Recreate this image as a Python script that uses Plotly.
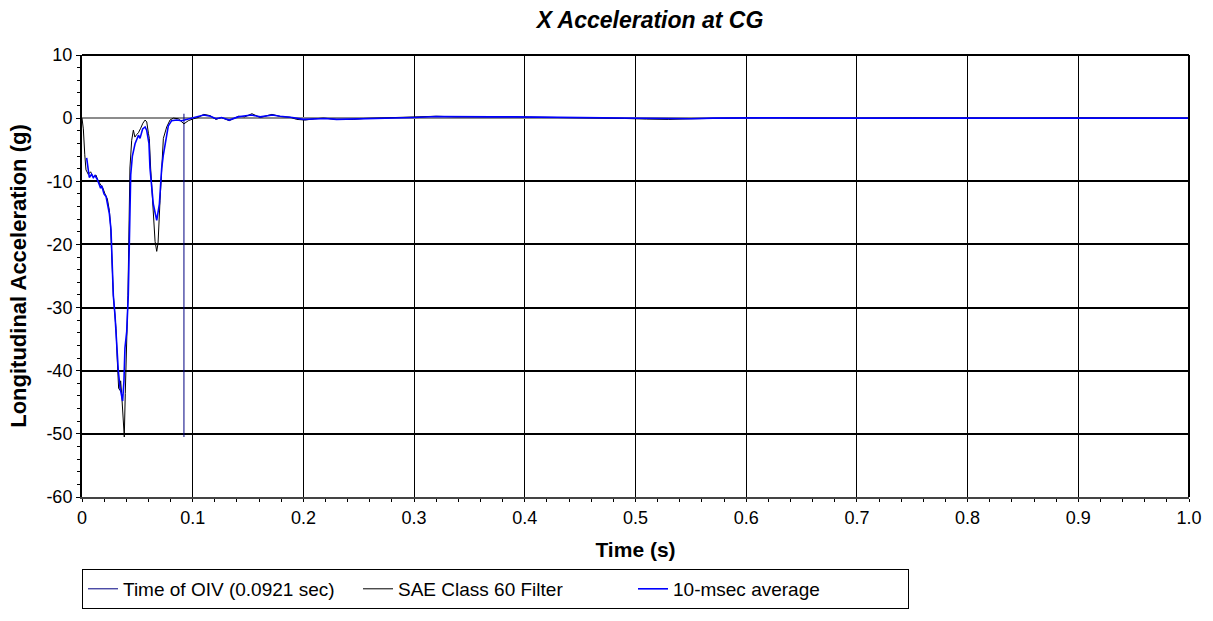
import plotly.graph_objects as go

# SAE Class 60 filtered longitudinal acceleration (g) vs time (s)
sae_t = [0.0, 0.0012, 0.0025, 0.0036, 0.0057, 0.0078, 0.0102, 0.0126, 0.0147, 0.0169,
         0.0187, 0.0208, 0.0229, 0.0247, 0.0259, 0.0283, 0.0307, 0.0319, 0.0331, 0.0343,
         0.0349, 0.0358, 0.0373, 0.0382, 0.0391, 0.0404, 0.0415, 0.0433, 0.0440, 0.0449,
         0.0464, 0.0478, 0.0494, 0.0510, 0.0530, 0.0550, 0.0570, 0.0585, 0.0600, 0.0608,
         0.0620, 0.0644, 0.0660, 0.0675, 0.0687, 0.0705, 0.0720, 0.0735, 0.0765, 0.0795,
         0.0825, 0.0870, 0.0921, 0.0961, 0.1006, 0.1050, 0.1100, 0.1156, 0.1210, 0.1260,
         0.1330, 0.1414, 0.1470, 0.1535, 0.1610, 0.1716, 0.1790, 0.1880, 0.1940, 0.2017,
         0.2100, 0.2180, 0.2300, 0.2450, 0.2550, 0.2660, 0.2780, 0.2900, 0.3020, 0.3200,
         0.3380, 0.3550, 0.3680, 0.3900, 0.4100, 0.4300, 0.4500, 0.4700, 0.4900, 0.5100,
         0.5300, 0.5500, 0.5700, 0.6000, 0.6300, 0.6600, 0.7000, 0.7500, 0.8000, 0.8500,
         0.9000, 0.9500, 1.0000]
sae_g = [0.0, -1.7, -5.8, -8.2, -8.9, -8.5, -9.4, -9.0, -10.0, -10.5,
         -11.0, -12.0, -12.8, -14.6, -17.2, -28.1, -33.3, -38.4, -42.8, -43.1,
         -41.6, -43.6, -48.3, -50.5, -43.6, -34.8, -28.1, -7.9, -5.5, -3.5,
         -1.9, -3.0, -2.6, -2.3, -1.6, -0.8, -0.3, -0.6, -2.4, -3.2,
         -7.9, -15.7, -19.5, -21.1, -19.8, -13.0, -7.9, -3.2, -1.4, -0.3,
         0.0, -0.1, -0.9, -0.4, -0.1, 0.1, 0.6, 0.4, -0.2, 0.1,
         -0.4, 0.3, 0.2, 0.7, 0.1, 0.6, 0.25, 0.15, -0.2, -0.3,
         -0.1, 0.0, -0.2, -0.2, -0.05, 0.0, 0.0, 0.1, 0.15, 0.3,
         0.2, 0.25, 0.2, 0.2, 0.15, 0.2, 0.1, 0.05, -0.05, -0.15,
         -0.2, -0.1, 0.0, 0.05, 0.05, 0.0, 0.0, 0.05, 0.0, 0.0,
         0.05, 0.0, 0.0]

# 10-msec moving average
avg_t = [0.0042, 0.0057, 0.0066, 0.0087, 0.0102, 0.0117, 0.0138, 0.0156, 0.0168, 0.0178,
         0.0199, 0.0217, 0.0232, 0.0247, 0.0262, 0.0283, 0.0298, 0.0313, 0.0328, 0.0343,
         0.0358, 0.0367, 0.0379, 0.0388, 0.0404, 0.0418, 0.0440, 0.0455, 0.0480, 0.0510,
         0.0524, 0.0548, 0.0570, 0.0584, 0.0605, 0.0614, 0.0644, 0.0675, 0.0699, 0.0720,
         0.0735, 0.0760, 0.0780, 0.0810, 0.0855, 0.0900, 0.0946, 0.1006, 0.1050, 0.1100,
         0.1160, 0.1210, 0.1260, 0.1330, 0.1410, 0.1530, 0.1610, 0.1720, 0.1790, 0.1900,
         0.2000, 0.2100, 0.2200, 0.2300, 0.2450, 0.2600, 0.2800, 0.3000, 0.3200, 0.3400,
         0.3700, 0.3900, 0.4100, 0.4300, 0.4500, 0.4700, 0.4900, 0.5100, 0.5300, 0.5500,
         0.5700, 0.6000, 0.6300, 0.6600, 0.7000, 0.7500, 0.8000, 0.8500, 0.9000, 0.9500,
         1.0000]
avg_g = [-6.3, -7.9, -9.4, -8.9, -9.4, -9.1, -9.7, -10.5, -11.1, -10.7,
         -12.0, -12.4, -13.6, -15.1, -17.7, -28.1, -31.2, -35.8, -40.0, -42.6,
         -44.4, -44.8, -41.6, -36.4, -33.8, -28.1, -9.0, -6.0, -4.0, -2.7,
         -3.2, -1.7, -1.4, -1.9, -4.0, -7.9, -13.6, -16.2, -13.6, -7.9,
         -5.8, -3.2, -1.2, -0.4, -0.3, -0.4, -0.2, 0.0, 0.2, 0.5,
         0.3, -0.1, 0.1, -0.3, 0.2, 0.5, 0.2, 0.5, 0.3, 0.1,
         -0.2, -0.1, -0.05, -0.2, -0.15, 0.0, 0.0, 0.1, 0.25, 0.2,
         0.2, 0.2, 0.15, 0.15, 0.1, 0.05, -0.05, -0.1, -0.15, -0.1,
         0.0, 0.05, 0.05, 0.0, 0.0, 0.0, 0.0, 0.0, 0.0, 0.0,
         0.0]

# Occupant impact velocity time marker
oiv_time = 0.0921
oiv_g = [-50.5, 0.7]

x_ticks = [0, 0.1, 0.2, 0.3, 0.4, 0.5, 0.6, 0.7, 0.8, 0.9, 1.0]
x_tick_text = ["0", "0.1", "0.2", "0.3", "0.4", "0.5", "0.6", "0.7", "0.8", "0.9", "1.0"]
y_ticks = [10, 0, -10, -20, -30, -40, -50, -60]
y_tick_text = ["10", "0", "-10", "-20", "-30", "-40", "-50", "-60"]

FONT = "Liberation Sans, Arial, sans-serif"

fig = go.Figure()
fig.add_trace(go.Scatter(x=[oiv_time, oiv_time], y=oiv_g, mode="lines",
                         line=dict(color="#000080", width=1),
                         name="Time of OIV (0.0921 sec)"))
fig.add_trace(go.Scatter(x=sae_t, y=sae_g, mode="lines",
                         line=dict(color="black", width=1),
                         name="SAE Class 60 Filter"))
fig.add_trace(go.Scatter(x=avg_t, y=avg_g, mode="lines",
                         line=dict(color="#0000FF", width=1.6),
                         name="10-msec average"))

# plot frame: top and right edges
fig.add_shape(type="line", xref="paper", yref="paper", x0=0, x1=1, y0=1, y1=1,
              line=dict(color="black", width=2))
fig.add_shape(type="line", xref="paper", yref="paper", x0=1, x1=1, y0=0, y1=1,
              line=dict(color="black", width=2))

fig.update_layout(
    width=1213, height=621,
    margin=dict(l=82, r=24, t=55, b=116),
    paper_bgcolor="white", plot_bgcolor="white",
    font=dict(family=FONT, color="black", size=18),
    title=dict(text="<b><i>X Acceleration at CG</i></b>",
               font=dict(family=FONT, size=23, color="black"),
               x=650 / 1213, xanchor="center", xref="container",
               y=1 - 20 / 621, yanchor="middle", yref="container"),
    showlegend=True,
    legend=dict(orientation="h", x=0, xanchor="left", y=-0.2533, yanchor="bottom",
                bordercolor="black", borderwidth=1, bgcolor="white",
                font=dict(family=FONT, size=19, color="black"),
                entrywidth=230, entrywidthmode="pixels",
                traceorder="normal"),
    xaxis=dict(range=[0, 1.0], tickvals=x_ticks, ticktext=x_tick_text,
               showgrid=True, gridcolor="black", gridwidth=1,
               zeroline=False, showline=True, linecolor="#444", linewidth=2,
               ticks="outside", ticklen=3, tickcolor="black",
               minor=dict(dtick=0.02, ticks="outside", ticklen=3, tickcolor="black", showgrid=False),
               tickfont=dict(size=18),
               title=dict(text="<b>Time (s)</b>", font=dict(size=21), standoff=16)),
    yaxis=dict(range=[-60, 10], tickvals=y_ticks, ticktext=y_tick_text,
               showgrid=True, gridcolor="black", gridwidth=2,
               zeroline=True, zerolinecolor="#8c8c8c", zerolinewidth=1.5,
               showline=True, linecolor="black", linewidth=2,
               ticks="outside", ticklen=4, tickcolor="black",
               minor=dict(dtick=2, ticks="outside", ticklen=3, tickcolor="black", showgrid=False),
               tickfont=dict(size=18),
               title=dict(text="<b>Longitudinal Acceleration (g)</b>", font=dict(size=22), standoff=14)),
)

fig.write_html("out.html")
